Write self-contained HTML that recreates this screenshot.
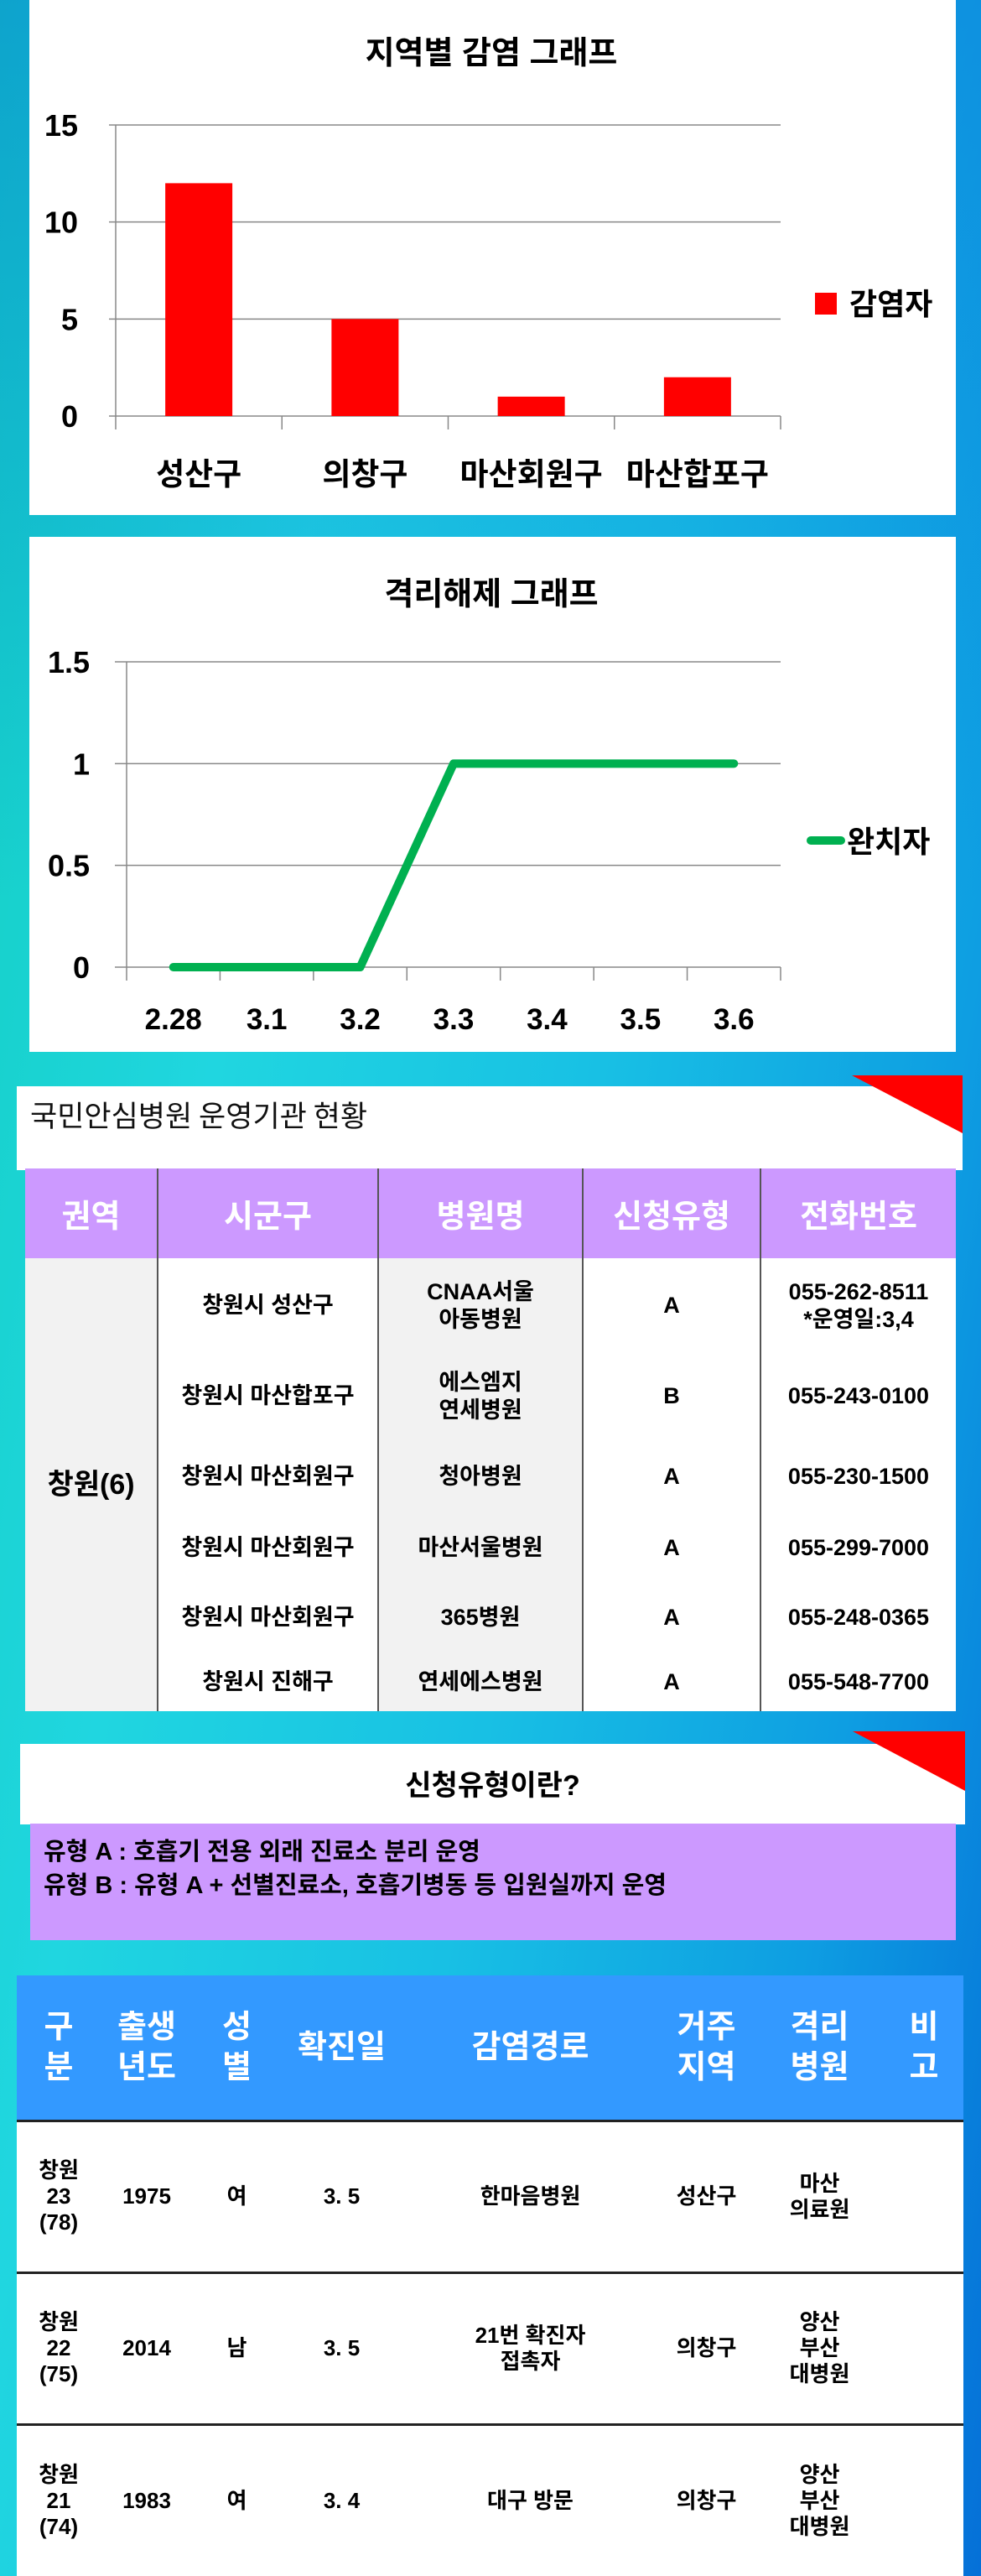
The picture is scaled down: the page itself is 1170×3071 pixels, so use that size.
<!DOCTYPE html>
<html><head><meta charset="utf-8">
<style>
*{margin:0;padding:0;box-sizing:border-box}
body{width:1170px;height:3071px;position:relative;overflow:hidden;font-family:"Liberation Sans","Noto Sans CJK KR",sans-serif;
background:linear-gradient(to bottom,rgba(8,110,220,0.45) 0%,rgba(8,110,220,0) 35%),linear-gradient(100deg,#12cfc0 0%,#20d6e0 28%,#18c0e4 55%,#0e9ee2 80%,#0570d8 100%);}
.abs{position:absolute}
.panel{position:absolute;background:#fff}
.tri{position:absolute;width:0;height:0}
table{border-collapse:collapse;position:absolute}
.t1 td,.t1 th{text-align:center;vertical-align:middle}
.t1 th{background:#cc99ff;color:#fff;font-size:38px;font-weight:bold;height:107px}
.t1 td{font-size:27px;font-weight:bold;color:#000;line-height:33px}
.t1 .g{background:#f2f2f2}
.t1 .w{background:#fff}
.t1 th+th,.t1 td.b{border-left:2px solid #555}
.t3 th{background:#3399ff;color:#fff;font-size:38px;font-weight:bold;line-height:48px;text-align:center}
.t3 td{background:#fff;font-size:26px;font-weight:bold;text-align:center;line-height:31px}
.t3 tr.r td{border-top:3px solid #222}
</style></head>
<body>

<div class="panel" style="left:35px;top:0;width:1105px;height:614px">
<svg id="c1" width="1105" height="614" style="position:absolute;left:0;top:0"></svg>
</div>

<div class="panel" style="left:35px;top:640px;width:1105px;height:614px">
<svg id="c2" width="1105" height="614" style="position:absolute;left:0;top:0"></svg>
</div>

<div class="panel" style="left:20px;top:1295px;width:1128px;height:100px">
<div class="abs" style="left:16px;top:8px;font-size:35px;color:#111;font-family:'Noto Sans CJK KR',sans-serif">국민안심병원 운영기관 현황</div>
</div>
<div class="tri" style="left:1016px;top:1282px;border-top:69px solid #ff0000;border-left:132px solid transparent"></div>
<table class="t1" style="left:30px;top:1393px;width:1110px">
<colgroup><col style="width:158px"><col style="width:263px"><col style="width:244px"><col style="width:212px"><col style="width:233px"></colgroup>
<tr><th>권역</th><th>시군구</th><th>병원명</th><th>신청유형</th><th>전화번호</th></tr>
<tr style="height:113px"><td class="g" rowspan="6" style="font-size:34px">창원(6)</td><td class="w b">창원시 성산구</td><td class="g b">CNAA서울<br>아동병원</td><td class="w b">A</td><td class="w b">055-262-8511<br>*운영일:3,4</td></tr>
<tr style="height:103px"><td class="w b">창원시 마산합포구</td><td class="g b">에스엠지<br>연세병원</td><td class="w b">B</td><td class="w b">055-243-0100</td></tr>
<tr style="height:88px"><td class="w b">창원시 마산회원구</td><td class="g b">청아병원</td><td class="w b">A</td><td class="w b">055-230-1500</td></tr>
<tr style="height:83px"><td class="w b">창원시 마산회원구</td><td class="g b">마산서울병원</td><td class="w b">A</td><td class="w b">055-299-7000</td></tr>
<tr style="height:83px"><td class="w b">창원시 마산회원구</td><td class="g b">365병원</td><td class="w b">A</td><td class="w b">055-248-0365</td></tr>
<tr style="height:70px"><td class="w b">창원시 진해구</td><td class="g b">연세에스병원</td><td class="w b">A</td><td class="w b">055-548-7700</td></tr>
</table>

<div class="panel" style="left:24px;top:2079px;width:1127px;height:96px">
<div class="abs" style="left:0;width:1127px;top:22px;text-align:center;font-size:34px;font-weight:bold;color:#000">신청유형이란?</div>
</div>
<div class="tri" style="left:1017px;top:2064px;border-top:71px solid #ff0000;border-left:134px solid transparent"></div>
<div class="abs" style="left:36px;top:2174px;width:1104px;height:139px;background:#cc99ff">
<div class="abs" style="left:16px;top:14px;font-size:29px;font-weight:bold;line-height:40px;color:#000">유형 A : 호흡기 전용 외래 진료소 분리 운영<br>유형 B : 유형 A + 선별진료소, 호흡기병동 등 입원실까지 운영</div>
</div>

<table class="t3" style="left:20px;top:2355px;width:1129px">
<colgroup><col style="width:100px"><col style="width:110px"><col style="width:105px"><col style="width:145px"><col style="width:305px"><col style="width:115px"><col style="width:155px"><col style="width:94px"></colgroup>
<tr style="height:173px"><th>구<br>분</th><th>출생<br>년도</th><th>성<br>별</th><th>확진일</th><th>감염경로</th><th>거주<br>지역</th><th>격리<br>병원</th><th>비<br>고</th></tr>
<tr class="r" style="height:181px"><td>창원<br>23<br>(78)</td><td>1975</td><td>여</td><td>3. 5</td><td>한마음병원</td><td>성산구</td><td>마산<br>의료원</td><td></td></tr>
<tr class="r" style="height:181px"><td>창원<br>22<br>(75)</td><td>2014</td><td>남</td><td>3. 5</td><td>21번 확진자<br>접촉자</td><td>의창구</td><td>양산<br>부산<br>대병원</td><td></td></tr>
<tr class="r" style="height:181px"><td>창원<br>21<br>(74)</td><td>1983</td><td>여</td><td>3. 4</td><td>대구 방문</td><td>의창구</td><td>양산<br>부산<br>대병원</td><td></td></tr>
</table>

<script>
const NS='http://www.w3.org/2000/svg';
function mk(svg,tag,attrs,text){const e=document.createElementNS(NS,tag);for(const k in attrs)e.setAttribute(k,attrs[k]);if(text!==undefined)e.textContent=text;svg.appendChild(e);return e;}
const FONT='"Liberation Sans","Noto Sans CJK KR",sans-serif';

const barCategories=['성산구','의창구','마산회원구','마산합포구'];
const barValues=[12,5,1,2];
const barTicks=[0,5,10,15];
const barMax=15;
(function(){
  const s=document.getElementById('c1');
  const x0=103,x1=896,yTop=149,yBot=496;
  const y=v=>yBot-(v/barMax)*(yBot-yTop);
  const cw=(x1-x0)/barCategories.length;
  let t=mk(s,'text',{x:551,y:76,'text-anchor':'middle','font-size':38,'font-weight':'bold','font-family':FONT},'지역별 감염 그래프');
  
  
  barTicks.forEach(v=>{
    const l=mk(s,'line',{x1:x0-8,x2:x1,y1:y(v),y2:y(v),stroke:'#888','stroke-width':1.5});
    
    
    const tx=mk(s,'text',{x:58,y:y(v)+13,'text-anchor':'end','font-size':36,'font-weight':'bold','font-family':FONT},String(v));
    
    
  });
  const ax=mk(s,'line',{x1:x0,x2:x0,y1:yTop,y2:yBot+16,stroke:'#888','stroke-width':1.5});
  
  
  barCategories.forEach((c,i)=>{
    const tk=mk(s,'line',{x1:x0+cw*(i+1),x2:x0+cw*(i+1),y1:yBot,y2:yBot+16,stroke:'#888','stroke-width':1.5});
    
    
    const cx=x0+cw*(i+0.5);
    const b=mk(s,'rect',{x:cx-40,y:y(barValues[i]),width:80,height:yBot-y(barValues[i]),fill:'#ff0000'});
    
    
    const lb=mk(s,'text',{x:cx,y:578,'text-anchor':'middle','font-size':37,'font-weight':'bold','font-family':FONT},c);
    
    
  });
  const lr=mk(s,'rect',{x:937,y:349,width:26,height:26,fill:'#ff0000'});
  
  
  const lt=mk(s,'text',{x:978,y:375,'font-size':36,'font-weight':'bold','font-family':FONT},'감염자');
  
  
})();

const lineCategories=['2.28','3.1','3.2','3.3','3.4','3.5','3.6'];
const lineValues=[0,0,0,1,1,1,1];
const lineTicks=[0,0.5,1,1.5];
const lineMax=1.5;
(function(){
  const s=document.getElementById('c2');
  const x0=116,x1=896,yTop=149,yBot=513;
  const y=v=>yBot-(v/lineMax)*(yBot-yTop);
  const cw=(x1-x0)/lineCategories.length;
  let t=mk(s,'text',{x:551,y:81,'text-anchor':'middle','font-size':38,'font-weight':'bold','font-family':FONT},'격리해제 그래프');
  
  
  lineTicks.forEach(v=>{
    const l=mk(s,'line',{x1:x0-14,x2:x1,y1:y(v),y2:y(v),stroke:'#888','stroke-width':1.5});
    
    
    const tx=mk(s,'text',{x:72,y:y(v)+13,'text-anchor':'end','font-size':36,'font-weight':'bold','font-family':FONT},String(v));
    
    
  });
  const ax=mk(s,'line',{x1:x0,x2:x0,y1:yTop,y2:yBot+16,stroke:'#888','stroke-width':1.5});
  
  
  const pts=[];
  lineCategories.forEach((c,i)=>{
    const tk=mk(s,'line',{x1:x0+cw*(i+1),x2:x0+cw*(i+1),y1:yBot,y2:yBot+16,stroke:'#888','stroke-width':1.5});
    
    
    const cx=x0+cw*(i+0.5);
    pts.push(cx+','+y(lineValues[i]));
    const lb=mk(s,'text',{x:cx,y:587,'text-anchor':'middle','font-size':35,'font-weight':'bold','font-family':FONT},c);
    
    
  });
  const pl=mk(s,'polyline',{points:pts.join(' '),fill:'none',stroke:'#00b050','stroke-width':10,'stroke-linecap':'round','stroke-linejoin':'round'});
  
  
  const ll=mk(s,'line',{x1:932,x2:968,y1:362,y2:362,stroke:'#00b050','stroke-width':10,'stroke-linecap':'round'});
  
  
  const lt=mk(s,'text',{x:975,y:376,'font-size':36,'font-weight':'bold','font-family':FONT},'완치자');
  
  
})();
</script>
</body></html>
